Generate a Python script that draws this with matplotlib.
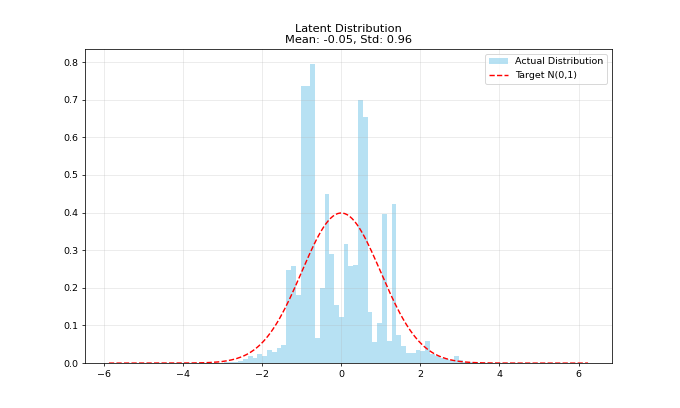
import numpy as np
import matplotlib
matplotlib.use('Agg')
import matplotlib.pyplot as plt

# Histogram of the latent values (density per bin), 100 bins
bin_start = -5.87
bin_end = 6.24
n_bins = 100
density = [
    0.001, 0.0, 0.0, 0.0, 0.0, 0.0, 0.0, 0.0, 0.0, 0.0,
    0.0, 0.0, 0.0, 0.0, 0.0, 0.0, 0.0, 0.0, 0.0, 0.0,
    0.0, 0.0, 0.0, 0.001, 0.002, 0.003, 0.004, 0.006, 0.010, 0.019,
    0.014, 0.023, 0.019, 0.035, 0.030, 0.040, 0.048, 0.247, 0.258, 0.181,
    0.737, 0.737, 0.795, 0.066, 0.199, 0.449, 0.290, 0.154, 0.123, 0.316,
    0.258, 0.261, 0.700, 0.653, 0.137, 0.055, 0.107, 0.395, 0.059, 0.423,
    0.074, 0.045, 0.026, 0.027, 0.036, 0.033, 0.060, 0.025, 0.018, 0.013,
    0.010, 0.009, 0.018, 0.007, 0.004, 0.003, 0.002, 0.001, 0.0, 0.0,
    0.0, 0.0, 0.0, 0.0, 0.0, 0.0, 0.0, 0.0, 0.0, 0.0,
    0.0, 0.0, 0.0, 0.0, 0.0, 0.0, 0.0, 0.0, 0.0, 0.001,
]
latent_mean = -0.05
latent_std = 0.96

# Target normal distribution parameters
target_mu = 0.0
target_sigma = 1.0

edges = np.linspace(bin_start, bin_end, n_bins + 1)
centers = (edges[:-1] + edges[1:]) / 2

fig, ax = plt.subplots(figsize=(10, 6), dpi=68)

ax.hist(centers, bins=edges, weights=density, color='skyblue', alpha=0.6,
        label='Actual Distribution')

x = np.linspace(bin_start, bin_end, 200)
pdf = np.exp(-0.5 * ((x - target_mu) / target_sigma) ** 2) / (target_sigma * np.sqrt(2 * np.pi))
ax.plot(x, pdf, 'r--', linewidth=1.5, label='Target N(0,1)')

ax.set_title(f'Latent Distribution\nMean: {latent_mean:.2f}, Std: {latent_std:.2f}')
ax.legend()
ax.grid(True, alpha=0.3)

plt.savefig('out.png', dpi=68)
